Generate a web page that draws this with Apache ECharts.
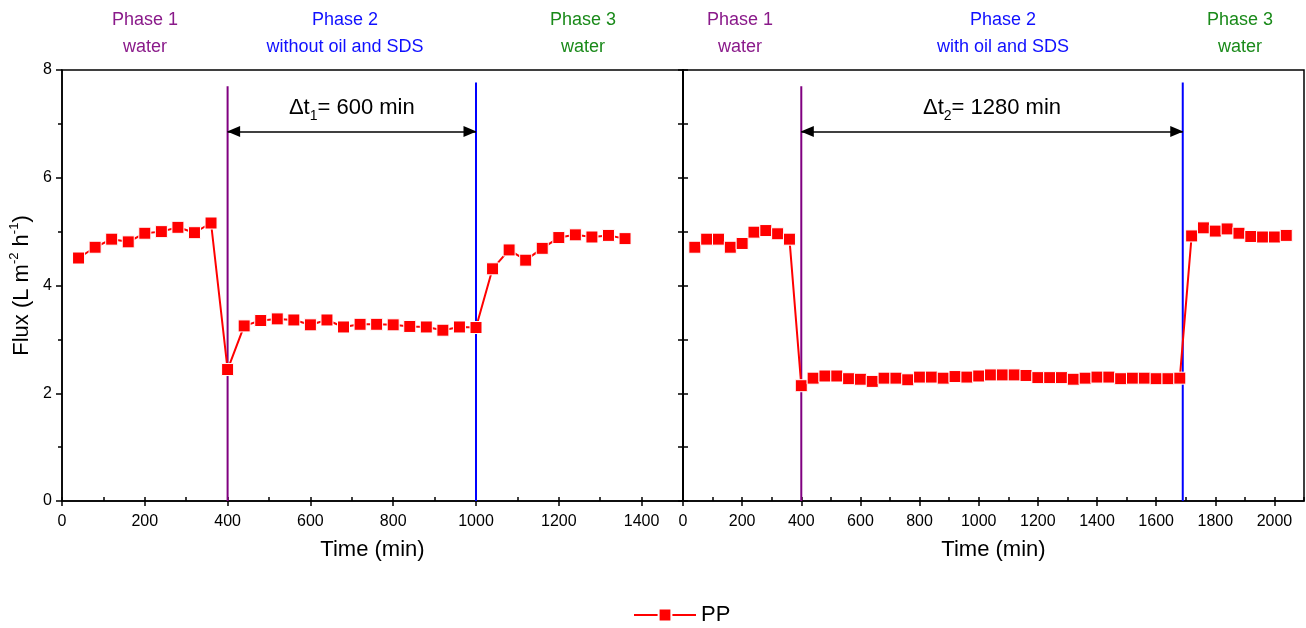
<!DOCTYPE html>
<html><head><meta charset="utf-8">
<script src="https://cdn.jsdelivr.net/npm/echarts@6/dist/echarts.min.js"></script>
<style>html,body{margin:0;padding:0;background:#fff}#c{width:1306px;height:628px}</style>
</head><body><div id="c"></div>
<script>
// ---- data ----
const timeLeft = [40,80,120,160,200,240,280,320,360,400,440,480,520,560,600,640,680,720,760,800,840,880,920,960,1000,1040,1080,1120,1160,1200,1240,1280,1320,1360];
const fluxLeft = [4.51,4.71,4.86,4.81,4.97,5.00,5.08,4.98,5.16,2.44,3.25,3.35,3.38,3.36,3.27,3.36,3.23,3.28,3.28,3.27,3.24,3.23,3.17,3.23,3.22,4.31,4.66,4.47,4.69,4.89,4.94,4.90,4.93,4.87];
const timeRight = [40,80,120,160,200,240,280,320,360,400,440,480,520,560,600,640,680,720,760,800,840,880,920,960,1000,1040,1080,1120,1160,1200,1240,1280,1320,1360,1400,1440,1480,1520,1560,1600,1640,1680,1720,1760,1800,1840,1880,1920,1960,2000,2040];
const fluxRight = [4.71,4.86,4.86,4.71,4.78,4.99,5.02,4.96,4.86,2.14,2.28,2.32,2.32,2.27,2.26,2.22,2.28,2.28,2.25,2.30,2.30,2.28,2.31,2.30,2.32,2.34,2.34,2.34,2.33,2.29,2.29,2.29,2.26,2.28,2.30,2.30,2.27,2.28,2.28,2.27,2.27,2.28,4.92,5.07,5.01,5.05,4.97,4.91,4.90,4.90,4.93];
const boundsLeft = [400, 1000];
const boundsRight = [400, 1690];
const boundTops = [7.70, 7.77];
const arrowY = 6.86;
const dtLeft = 600;
const dtRight = 1280;
const seriesName = 'PP';

const FONT = 'Liberation Sans, Arial, sans-serif';
const PURPLE = '#8a1a8a', BLUE = '#1010ff', GREEN = '#1a8a1a';
const boundColors = ['#800080', '#0000ff'];

function zip(a, b) { return a.map((v, i) => [v, b[i]]); }

function xAxes(gridIndex, max) {
  return [
    { type: 'value', gridIndex, min: 0, max, interval: 200, position: 'bottom',
      name: 'Time (min)', nameLocation: 'middle', nameGap: 38,
      nameTextStyle: { fontSize: 22, color: '#000', fontFamily: FONT },
      axisLine: { show: true, lineStyle: { color: '#000', width: 1.5 } },
      axisTick: { show: true, inside: false, length: 5, lineStyle: { color: '#000', width: 1.5 } },
      axisLabel: { fontSize: 16, color: '#000', fontFamily: FONT, margin: 13, showMaxLabel: false,
        formatter: v => String(v) },
      splitLine: { show: false } },
    { type: 'value', gridIndex, min: 0, max, interval: 100, position: 'bottom',
      axisLine: { show: false },
      axisTick: { show: true, inside: true, length: 4, lineStyle: { color: '#000', width: 1.5 } },
      axisLabel: { show: false }, splitLine: { show: false } }
  ];
}

const yBase = { type: 'value', min: 0, max: 8, interval: 2, splitLine: { show: false },
  axisLine: { show: true, lineStyle: { color: '#000', width: 1.5 } } };

function boundSeries(xi, yi, bounds) {
  return bounds.map((b, i) => ({
    type: 'line', xAxisIndex: xi, yAxisIndex: yi, silent: true, symbol: 'none',
    lineStyle: { color: boundColors[i], width: 2 },
    data: [[b, 0], [b, boundTops[i]]], z: 1
  }));
}

function arrowSeries(xi, yi, bounds, sub, dt) {
  return {
    type: 'line', xAxisIndex: xi, yAxisIndex: yi, data: [], silent: true,
    markLine: {
      silent: true, symbol: ['triangle', 'triangle'], symbolSize: [11, 13],
      symbolOffset: [[0, 6], [0, 6]],
      lineStyle: { color: '#000', width: 1.5, type: 'solid' },
      label: { show: true, position: 'middle', distance: 8,
        formatter: '{a|Δt}{s|' + sub + '}{a|= ' + dt + ' min}',
        rich: { a: { fontSize: 22, color: '#000', fontFamily: FONT, lineHeight: 30 },
                s: { fontSize: 14, color: '#000', fontFamily: FONT, verticalAlign: 'bottom', lineHeight: 14 } } },
      data: [[{ coord: [bounds[0], arrowY] }, { coord: [bounds[1], arrowY] }]]
    }
  };
}

const dataSeries = (xi, yi, t, f) => ({
  name: seriesName, type: 'line', xAxisIndex: xi, yAxisIndex: yi,
  data: zip(t, f), symbol: 'rect', symbolSize: 12, z: 5,
  lineStyle: { color: '#ff0000', width: 2 },
  itemStyle: { color: '#ff0000', borderColor: '#ffffff', borderWidth: 1 }
});

function header(x, text, color) {
  return { type: 'text', x, y: 7, silent: true,
    style: { text, fill: color, fontSize: 18, fontFamily: FONT, align: 'center', textAlign: 'center', verticalAlign: 'top', lineHeight: 27 } };
}

const option = {
  backgroundColor: '#fff',
  animation: false,
  grid: [
    { left: 62, right: 623, top: 70, bottom: 127, show: true, borderColor: '#000', borderWidth: 1.5, containLabel: false },
    { left: 683, right: 2, top: 70, bottom: 127, show: true, borderColor: '#000', borderWidth: 1.5, containLabel: false }
  ],
  xAxis: [...xAxes(0, 1500), ...xAxes(1, 2100)],
  yAxis: [
    Object.assign({}, yBase, { gridIndex: 0, position: 'left',
      name: 'Flux (L m{sup|-2} h{sup|-1})', nameLocation: 'middle', nameGap: 26,
      nameTextStyle: { fontSize: 22, color: '#000', fontFamily: FONT, lineHeight: 28,
        rich: { sup: { fontSize: 13, color: '#000', fontFamily: FONT, verticalAlign: 'top', lineHeight: 13 } } },
      axisTick: { show: true, inside: false, length: 6, lineStyle: { color: '#000', width: 1.5 } },
      minorTick: { show: true, splitNumber: 2, length: 4, lineStyle: { color: '#000', width: 1.5 } },
      axisLabel: { fontSize: 16, color: '#000', fontFamily: FONT, margin: 10 } }),
    Object.assign({}, yBase, { gridIndex: 1, position: 'left',
      axisTick: { show: true, inside: true, length: 5, lineStyle: { color: '#000', width: 1.5 } },
      minorTick: { show: true, splitNumber: 2, length: 5, lineStyle: { color: '#000', width: 1.5 } },
      axisLabel: { show: false } }),
    Object.assign({}, yBase, { gridIndex: 1, position: 'right',
      axisTick: { show: true, inside: true, length: 5, lineStyle: { color: '#000', width: 1.5 } },
      minorTick: { show: true, splitNumber: 2, length: 5, lineStyle: { color: '#000', width: 1.5 } },
      axisLabel: { show: false } })
  ],
  legend: {
    data: [seriesName], left: 628, top: 599, itemWidth: 62, itemHeight: 16,
    textStyle: { fontSize: 22, color: '#000', fontFamily: FONT }
  },
  graphic: [
    header(145, 'Phase 1\nwater', PURPLE),
    header(345, 'Phase 2\nwithout oil and SDS', BLUE),
    header(583, 'Phase 3\nwater', GREEN),
    header(740, 'Phase 1\nwater', PURPLE),
    header(1003, 'Phase 2\nwith oil and SDS', BLUE),
    header(1240, 'Phase 3\nwater', GREEN)
  ],
  series: [
    ...boundSeries(0, 0, boundsLeft),
    ...boundSeries(2, 1, boundsRight),
    arrowSeries(0, 0, boundsLeft, '1', dtLeft),
    arrowSeries(2, 1, boundsRight, '2', dtRight),
    dataSeries(0, 0, timeLeft, fluxLeft),
    dataSeries(2, 1, timeRight, fluxRight)
  ]
};
const chart = echarts.init(document.getElementById('c'), null, { renderer: 'canvas' });
chart.setOption(option);
</script></body></html>
